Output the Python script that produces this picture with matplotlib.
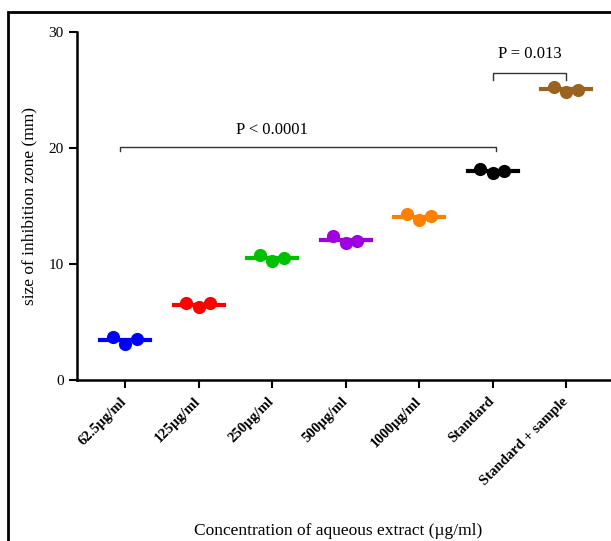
import numpy as np
import matplotlib.pyplot as plt
from matplotlib.patches import Rectangle

groups = ['62.5µg/ml', '125µg/ml', '250µg/ml', '500µg/ml', '1000µg/ml',
          'Standard', 'Standard + sample']
values = [
    [3.7, 3.1, 3.55],
    [6.6, 6.3, 6.6],
    [10.8, 10.3, 10.5],
    [12.4, 11.8, 12.0],
    [14.3, 13.8, 14.1],
    [18.2, 17.85, 18.0],
    [25.3, 24.85, 25.0],
]
colors = ['#0000ff', '#ff0000', '#00c000', '#a000e0', '#ff8000', '#000000', '#9a6322']
y_ticks = [0, 10, 20, 30]

plt.rcParams['font.family'] = ['Liberation Serif', 'DejaVu Serif']

fig = plt.figure(figsize=(6.11, 5.41), dpi=100)
ax1 = fig.add_axes([77/611, 1-380/541, 1-77/611, (380-32)/541])

offs = [-0.17, 0., 0.16]
for i in range(len(groups)):
    v = values[i]
    ax1.scatter([i+o for o in offs], v, color=colors[i], s=90, zorder=3, linewidths=0)
    m = np.mean(v)
    ax1.plot([i-0.34, i+0.34], [m, m], color=colors[i], lw=3, zorder=4)

# brackets
ax1.plot([-0.07, -0.07, 5.05, 5.05], [19.7, 20.1, 20.1, 19.7], color='#333333', lw=1)
ax1.text(2, 20.9, 'P < 0.0001', ha='center', va='bottom', fontsize=12)
ax1.plot([5.0, 5.0, 6.0, 6.0], [25.9, 26.5, 26.5, 25.9], color='#333333', lw=1)
ax1.text(5.5, 27.4, 'P = 0.013', ha='center', va='bottom', fontsize=12)

ax1.set_xlim(-0.653, 6.61)
ax1.set_ylim(0, 30)
ax1.set_yticks(y_ticks)
ax1.set_xticks(range(len(groups)))
ax1.set_xticklabels(groups, rotation=45, ha='right', va='center',
                    rotation_mode='anchor', fontweight='bold', fontsize=10.5)
ax1.tick_params(axis='both', direction='out', length=6, width=1.5)
ax1.tick_params(axis='y', labelsize=11)
ax1.tick_params(axis='x', pad=8)
for s in ['top', 'right']:
    ax1.spines[s].set_visible(False)
for s in ['left', 'bottom']:
    ax1.spines[s].set_linewidth(1.8)

ax1.set_ylabel('size of inhibition zone (mm)', fontsize=12.5, labelpad=8)
fig.text(338/611, 1-531/541, 'Concentration of aqueous extract (µg/ml)',
         ha='center', va='center', fontsize=12.5)

# outer frame
fig.patches.append(Rectangle((8/611, -0.1), 1.2, 1.1-12/541, transform=fig.transFigure,
                             fill=False, edgecolor='k', lw=2, clip_on=False))

plt.savefig('out.png', dpi=100)
